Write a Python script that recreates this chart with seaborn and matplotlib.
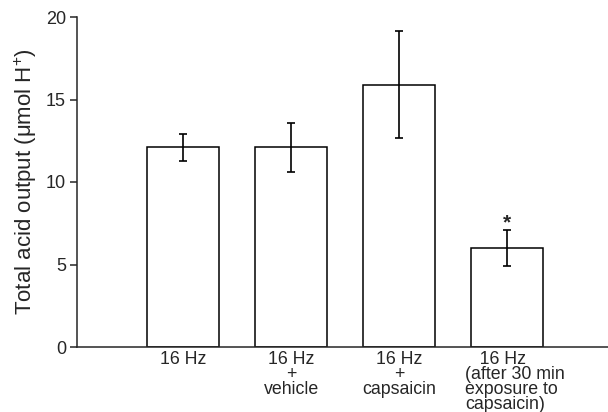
import matplotlib
matplotlib.use("Agg")
import matplotlib.pyplot as plt
import matplotlib.transforms as mtransforms
import seaborn as sns
import pandas as pd

categories = ["16 Hz", "16 Hz + vehicle", "16 Hz + capsaicin", "16 Hz after capsaicin"]
tick_labels = ["16 Hz", "16 Hz\n+\nvehicle", "16 Hz\n+\ncapsaicin",
               "   16 Hz\n(after 30 min\nexposure to\ncapsaicin)"]
means = [12.1, 12.1, 15.9, 6.0]
sems = [0.8, 1.5, 3.25, 1.1]
yticks = [0, 5, 10, 15, 20]

sns.set_style("ticks")
plt.rcParams["font.family"] = ["Liberation Sans", "DejaVu Sans"]
plt.rcParams["mathtext.fontset"] = "custom"
plt.rcParams["mathtext.rm"] = "Liberation Sans"
plt.rcParams["mathtext.default"] = "regular"

fig = plt.figure(figsize=(6.08, 4.12), dpi=100)
ax = fig.add_axes([77 / 608, 1 - 347 / 412, 1 - 77 / 608, (347 - 17) / 412])

df = pd.DataFrame({"cat": categories, "val": means})
sns.barplot(data=df, x="cat", y="val", color="white", edgecolor="black",
            linewidth=1.1, width=0.67, errorbar=None, ax=ax, saturation=1)
for p in ax.patches:
    p.set_facecolor("white")
ax.errorbar(range(len(means)), means, yerr=sems, fmt="none", ecolor="black",
            elinewidth=1.2, capsize=2.6, capthick=1.2, zorder=5)

ax.annotate("*", xy=(3, means[3] + sems[3]), xytext=(0, -2), textcoords="offset points",
            ha="center", va="bottom", fontsize=15, fontweight="bold")

ax.set_ylim(0, 20)
ax.set_xlim(-0.986, 3.94)
ax.set_yticks(yticks)
ax.set_yticklabels([str(t) for t in yticks], fontsize=13)
ax.set_xticks(range(len(categories)))
ax.set_xticklabels(tick_labels, fontsize=12.8, linespacing=0.84)
ax.tick_params(axis="x", length=0, pad=3)
ax.tick_params(axis="y", length=5, width=1.1, pad=3)
labels = ax.get_xticklabels()
labels[3].set_multialignment("left")
labels[3].set_transform(labels[3].get_transform() +
                        mtransforms.ScaledTranslation(8 / 100, 0, fig.dpi_scale_trans))
ax.set_xlabel("")
ax.set_ylabel("Total acid output (μmol H$^{+}$)", fontsize=16, labelpad=5)
sns.despine(ax=ax)
for s in ["left", "bottom"]:
    ax.spines[s].set_linewidth(1.1)

fig.savefig("out.png", dpi=100)
